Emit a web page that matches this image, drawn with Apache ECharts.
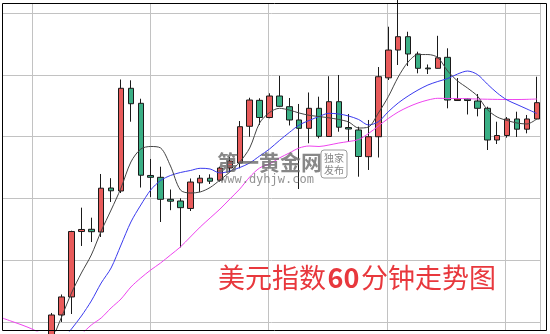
<!DOCTYPE html>
<html>
<head>
<meta charset="utf-8">
<script src="https://cdn.jsdelivr.net/npm/echarts@6/dist/echarts.min.js"></script>
<style>html,body{margin:0;padding:0;background:#fff;}#c{width:550px;height:334px;}</style>
</head>
<body>
<div id="c"></div>
<script>
// ---- data ----
var categories = [];
for (var k = 0; k < 55; k++) { categories.push(String(k + 1)); }

// candles: [open, close, low, high]; first 5 slots empty
var candles = [
  '-', '-', '-', '-', '-',
  [95.9628, 96.0113, 95.9579, 96.0146],
  [96.0113, 96.0405, 96.0000, 96.0445],
  [96.0405, 96.1464, 96.0129, 96.1477],
  [96.1464, 96.1497, 96.1230, 96.1850],
  [96.1500, 96.1461, 96.1294, 96.1688],
  [96.1456, 96.2165, 96.1375, 96.2395],
  [96.2168, 96.2123, 96.1942, 96.2327],
  [96.2120, 96.3782, 96.2087, 96.3924],
  [96.3782, 96.3532, 96.3241, 96.3911],
  [96.3539, 96.2375, 96.2176, 96.3613],
  [96.2371, 96.2341, 96.2023, 96.2638],
  [96.2341, 96.1985, 96.1618, 96.2513],
  [96.1985, 96.1955, 96.1809, 96.2144],
  [96.1958, 96.1850, 96.1206, 96.2002],
  [96.1837, 96.2265, 96.1796, 96.2322],
  [96.2252, 96.2327, 96.2104, 96.2379],
  [96.2327, 96.2278, 96.2233, 96.2390],
  [96.2294, 96.2492, 96.2270, 96.2513],
  [96.2492, 96.2605, 96.2427, 96.2670],
  [96.2573, 96.3160, 96.2487, 96.3252],
  [96.3167, 96.3592, 96.2998, 96.3629],
  [96.3587, 96.3309, 96.3188, 96.3620],
  [96.3309, 96.3657, 96.3296, 96.3701],
  [96.3657, 96.3490, 96.3484, 96.3984],
  [96.3484, 96.3269, 96.3180, 96.3625],
  [96.3269, 96.3134, 96.2152, 96.3528],
  [96.3134, 96.3458, 96.2892, 96.3714],
  [96.3458, 96.3005, 96.2972, 96.3646],
  [96.3002, 96.3565, 96.2998, 96.3977],
  [96.3565, 96.3152, 96.3079, 96.3997],
  [96.3147, 96.3123, 96.2913, 96.3366],
  [96.3107, 96.2678, 96.2351, 96.3160],
  [96.2675, 96.2998, 96.2460, 96.3269],
  [96.2998, 96.3969, 96.2662, 96.4126],
  [96.3951, 96.4401, 96.3916, 96.4778],
  [96.4401, 96.4617, 96.4159, 96.5291],
  [96.4617, 96.4337, 96.4142, 96.4697],
  [96.4337, 96.4105, 96.4024, 96.4374],
  [96.4110, 96.4097, 96.4013, 96.4167],
  [96.4105, 96.4275, 96.4102, 96.4631],
  [96.4283, 96.3592, 96.3458, 96.4429],
  [96.3584, 96.3608, 96.3581, 96.3948],
  [96.3608, 96.3584, 96.3358, 96.3613],
  [96.3576, 96.3458, 96.3328, 96.3689],
  [96.3458, 96.2945, 96.2783, 96.3484],
  [96.2945, 96.3018, 96.2880, 96.3241],
  [96.3018, 96.3285, 96.2982, 96.3317],
  [96.3285, 96.3120, 96.2994, 96.3403],
  [96.3120, 96.3285, 96.3053, 96.3350],
  [96.3285, 96.3549, 96.3280, 96.3969]
];

var maBlack = ['-', '-', '-', '-', 95.9304,
  95.9693, 96.0081, 96.0469, 96.0793, 96.1084, 96.1472, 96.1812, 96.2168, 96.2589, 96.2799,
  96.2840, 96.2816, 96.2524, 96.2136, 96.2087, 96.2104, 96.2176, 96.2298, 96.2427, 96.2589,
  96.2816, 96.3220, 96.3390, 96.3458, 96.3430, 96.3382, 96.3345, 96.3325, 96.3304, 96.3277,
  96.3236, 96.3139, 96.3155, 96.3382, 96.3646, 96.3964, 96.4207, 96.4328, 96.4328, 96.4280,
  96.4061, 96.3900, 96.3786, 96.3657, 96.3438, 96.3317, 96.3261, 96.3220, 96.3204, 96.3285];

var maBlue = ['-', '-', '-', '-', 95.9142,
  95.9450, 95.9693, 95.9887, 96.0097, 96.0340, 96.0631, 96.0874, 96.1246, 96.1618, 96.1893,
  96.2136, 96.2290, 96.2371, 96.2419, 96.2451, 96.2487, 96.2476, 96.2411, 96.2443, 96.2500,
  96.2573, 96.2686, 96.2799, 96.2937, 96.3066, 96.3188, 96.3261, 96.3325, 96.3377, 96.3366,
  96.3333, 96.3277, 96.3188, 96.3241, 96.3403, 96.3544, 96.3657, 96.3754, 96.3835, 96.3892,
  96.3940, 96.4013, 96.4061, 96.4005, 96.3851, 96.3706, 96.3592, 96.3519, 96.3447, 96.3374];

var maPink = [96.0065, 96.0008, 95.9951, 95.9887, 95.9806,
  95.9725, 95.9693, 95.9709, 95.9806, 95.9951, 96.0065, 96.0227, 96.0372, 96.0566, 96.0712,
  96.0841, 96.0955, 96.1084, 96.1214, 96.1375, 96.1537, 96.1683, 96.1828, 96.1990, 96.2152,
  96.2346, 96.2492, 96.2557, 96.2654, 96.2735, 96.2816, 96.2848, 96.2840, 96.2864, 96.2896,
  96.2921, 96.2953, 96.3050, 96.3172, 96.3293, 96.3398, 96.3479, 96.3544, 96.3592, 96.3620,
  96.3617, 96.3617, 96.3613, 96.3608, 96.3605, 96.3602, 96.3600, 96.3600, 96.3603, 96.3608];

var gridValues = [96.0, 96.5, 0.1];   // horizontal grid: min, max, step
var chartTitle = '美元指数{b|60}分钟走势图';

// ---- chart ----
var chart = echarts.init(document.getElementById('c'), null, {renderer: 'canvas'});
var gridColor = '#c2c2c2';
var hidden = {show: false};
var option = {
  animation: false,
  backgroundColor: '#ffffff',
  title: {
    text: chartTitle,
    left: 213, top: 258,
    textStyle: {
      fontFamily: 'Noto Sans CJK SC', fontSize: 27, fontWeight: 'normal', color: '#e8383d', lineHeight: 30,
      rich: {b: {fontFamily: 'Noto Sans CJK SC', fontSize: 27, fontWeight: 'bold', color: '#e8383d', width: 35, align: 'center', lineHeight: 30}}
    }
  },
  grid: [
    {left: 3, right: 10, top: 13, bottom: 12},
    {left: 32, right: 45, top: 4, bottom: 3},
    {left: 2.2, right: 13.2, top: 4, bottom: 3}
  ],
  xAxis: [
    {gridIndex: 0, type: 'value', show: false},
    {gridIndex: 1, type: 'value', min: 0, max: 4, interval: 1,
      axisLine: hidden, axisTick: hidden, axisLabel: hidden,
      splitLine: {show: true, lineStyle: {color: gridColor, width: 1}}},
    {gridIndex: 2, type: 'category', data: categories, boundaryGap: false, show: false}
  ],
  yAxis: [
    {gridIndex: 0, type: 'value', min: gridValues[0], max: gridValues[1], interval: gridValues[2],
      axisLine: hidden, axisTick: hidden, axisLabel: hidden,
      splitLine: {show: true, lineStyle: {color: gridColor, width: 1}}},
    {gridIndex: 1, type: 'value', show: false},
    {gridIndex: 2, type: 'value', min: 95.9854, max: 96.5146, show: false}
  ],
  graphic: [
    {type: 'line', shape: {x1: 540.5, y1: 4, x2: 540.5, y2: 331}, style: {stroke: gridColor, lineWidth: 1}, z: 1},
    {type: 'rect', shape: {x: 2.5, y: 3.5, width: 544, height: 327}, style: {stroke: '#000', fill: null, lineWidth: 1}, z: 50},
    {type: 'text', x: 217, y: 162, style: {text: '第一黄金网', fill: 'rgba(105,105,105,0.8)', font: 'bold 21px "Noto Sans CJK SC"', textVerticalAlign: 'middle'}, z: 40},
    {type: 'rect', shape: {x: 321, y: 150, width: 26, height: 28, r: 3}, style: {stroke: 'rgba(130,130,130,0.8)', fill: 'rgba(255,255,255,0.3)', lineWidth: 1}, z: 40},
    {type: 'text', x: 334, y: 158, style: {text: '独家', fill: 'rgba(120,120,120,0.9)', font: '10px "Noto Sans CJK SC"', textAlign: 'center', textVerticalAlign: 'middle'}, z: 41},
    {type: 'text', x: 334, y: 170, style: {text: '发布', fill: 'rgba(120,120,120,0.9)', font: '10px "Noto Sans CJK SC"', textAlign: 'center', textVerticalAlign: 'middle'}, z: 41},
    {type: 'text', x: 220, y: 180, style: {text: 'www.dyhjw.com', fill: 'rgba(120,120,120,0.8)', font: '12px "DejaVu Sans Mono"', textVerticalAlign: 'middle'}, z: 40}
  ],
  series: [
    {type: 'candlestick', xAxisIndex: 2, yAxisIndex: 2, data: candles, barWidth: 6, z: 5,
      itemStyle: {color: '#e85a5a', color0: '#3aaf85', borderColor: '#1a1a1a', borderColor0: '#1a1a1a', borderWidth: 1}},
    {type: 'line', xAxisIndex: 2, yAxisIndex: 2, data: maPink, symbol: 'none', smooth: 0.3, z: 6,
      lineStyle: {color: '#ee44ee', width: 1}},
    {type: 'line', xAxisIndex: 2, yAxisIndex: 2, data: maBlue, symbol: 'none', smooth: 0.3, z: 7,
      lineStyle: {color: '#3a3aee', width: 1}},
    {type: 'line', xAxisIndex: 2, yAxisIndex: 2, data: maBlack, symbol: 'none', smooth: 0.3, z: 8,
      lineStyle: {color: '#444444', width: 1}}
  ]
};
chart.setOption(option);
</script>
</body>
</html>
